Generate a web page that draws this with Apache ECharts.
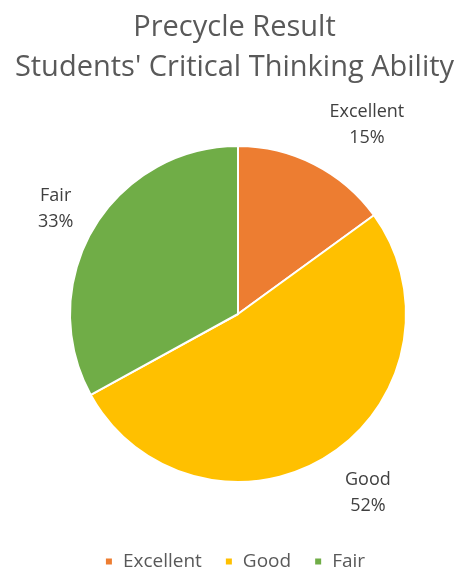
<!DOCTYPE html>
<html><head><meta charset="utf-8">
<script src="https://cdn.jsdelivr.net/npm/echarts@6/dist/echarts.min.js"></script>
<style>html,body{margin:0;padding:0;background:#fff}#c{width:469px;height:570px}</style>
</head><body><div id="c"></div>
<script>
const categories = ['Excellent', 'Good', 'Fair'];
const values = [15, 52, 33];
const colors = ['#ED7D31', '#FFC000', '#70AD47'];
const titleLines = ['Precycle Result', "Students' Critical Thinking Ability"];

const CX = 238, CY = 314, R = 168, LD = 220;
const nudge = [[29, 7], [12, -7], [7, 7]];
const total = values.reduce((a, b) => a + b, 0);

const chart = echarts.init(document.getElementById('c'));
chart.setOption({
  animation: false,
  color: colors,
  title: {
    text: titleLines.join('\n'),
    left: 'center', top: 3,
    textStyle: { fontFamily: 'Open Sans', fontSize: 29, fontWeight: 'normal', color: '#595959', lineHeight: 40 }
  },
  legend: {
    top: 547, left: 'center',
    icon: 'rect', itemWidth: 8, itemHeight: 8, itemGap: 22,
    textStyle: { fontFamily: 'Open Sans', fontSize: 19, color: '#595959', padding: [0, 0, 0, 5] },
    data: categories
  },
  series: [{
    type: 'pie',
    center: [CX, CY], radius: R,
    startAngle: 90, clockwise: true,
    itemStyle: { borderColor: '#fff', borderWidth: 2 },
    label: {
      show: true, position: 'outside',
      formatter: '{b}\n{d}%',
      fontFamily: 'Open Sans', fontSize: 18, color: '#404040', lineHeight: 26, align: 'center'
    },
    labelLine: { show: false },
    labelLayout: function (p) {
      const i = p.dataIndex;
      let cum = 0;
      for (let k = 0; k < i; k++) cum += values[k];
      const mid = (cum + values[i] / 2) / total * 2 * Math.PI;
      const x = CX + Math.sin(mid) * LD + nudge[i][0];
      const y = CY - Math.cos(mid) * LD + nudge[i][1];
      return { x: x, y: y, align: 'center', verticalAlign: 'middle' };
    },
    data: categories.map((c, i) => ({ name: c, value: values[i] }))
  }]
});
</script></body></html>
